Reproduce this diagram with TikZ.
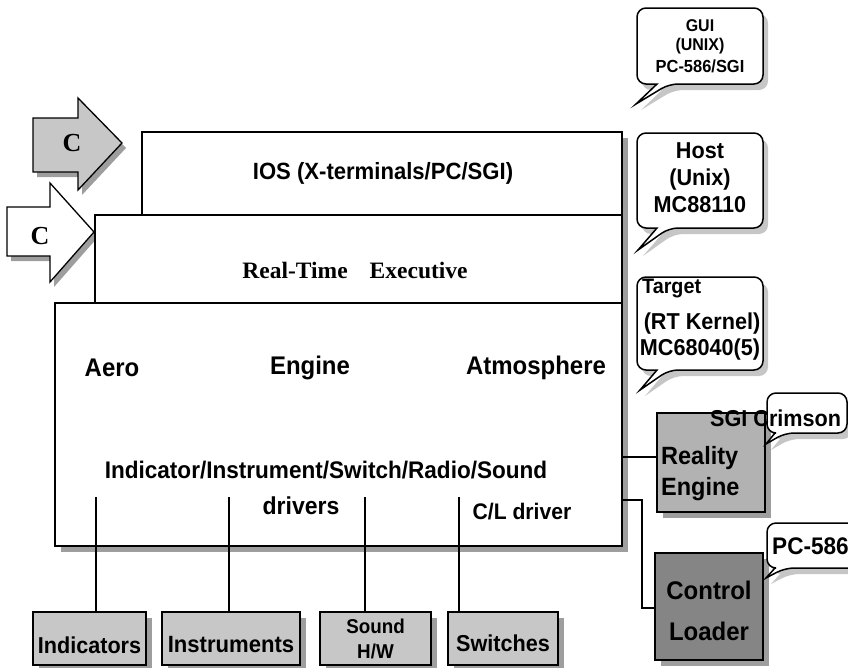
\documentclass[tikz,border=0pt]{standalone}
\usepackage{fontspec}
\setmainfont{Liberation Sans}
\newfontfamily\serifb{Liberation Serif}
\newfontfamily\narr[FakeStretch=0.94]{Liberation Sans}
\usetikzlibrary{shadows,calc}
\definecolor{shd}{gray}{0.62}
\definecolor{lgray}{gray}{0.78}
\definecolor{mgray}{gray}{0.70}
\definecolor{dgray}{gray}{0.52}
\newcommand\mybubble[8]{%
  \draw[bubblestyle] (#1,#2) -- (#3,#2) -- (#3,#4) -- (#6,#4) [sharp corners] -- (#7,#8) -- (#5,#4) [rounded corners=9pt] -- (#1,#4) -- cycle;}
\newcommand\fs[1]{\narr\bfseries\fontsize{#1}{#1}\selectfont}
\begin{document}
\begin{tikzpicture}[x=1pt,y=-1pt,
  box/.style={draw, line width=1.8pt, fill=white, inner sep=0pt,
    drop shadow={shadow xshift=6pt, shadow yshift=-6pt, fill=shd, opacity=1}},
  gbox/.style={box, fill=lgray},
  conn/.style={line width=1.6pt},
  bubblestyle/.style={draw, line width=1.5pt, fill=white, rounded corners=9pt,
    drop shadow={shadow xshift=5pt, shadow yshift=-6pt, fill=gray!45, opacity=1}},
  arrowshape/.style={draw, line width=1.3pt, line join=miter,
    drop shadow={shadow xshift=4pt, shadow yshift=-5pt, fill=shd, opacity=1}},
  lbl/.style={font=\fs{24}, inner sep=0pt},
  slbl/.style={font=\fs{23}, inner sep=0pt, align=center},
  serl/.style={font=\serifb\bfseries\fontsize{23.5}{24}\selectfont, inner sep=0pt},
]
\useasboundingbox (0,0) rectangle (848,667);

% arrows C
\path[arrowshape, fill=lgray] (33,118) -- (78,118) -- (78,98) -- (122,143) -- (78,190) -- (78,172) -- (33,172) -- cycle;
\path[arrowshape, fill=white] (7,207) -- (50,207) -- (50,183) -- (94,232) -- (50,282) -- (50,256) -- (7,256) -- cycle;
\node[serl, font=\serifb\bfseries\fontsize{26}{26}\selectfont] (c1lbl) at (72,143) {C};
\node[serl, font=\serifb\bfseries\fontsize{26}{26}\selectfont] (c2lbl) at (40,236) {C};

% stacked boxes
\node[box, minimum width=480pt, minimum height=83pt] (ios) at (382,173.5) {};
\node[box, minimum width=527pt, minimum height=88pt] (rte) at (358.5,259) {};
\node[box, minimum width=567pt, minimum height=243pt] (main) at (338.5,424.5) {};

\node[lbl, font=\fs{23.5}] (iost) at (383,173) {IOS (X-terminals/PC/SGI)};
\node[serl] (rtet) at (355,270) {Real-Time\hspace{22pt}Executive};

\node[lbl, font=\fs{25.5}] (aero) at (112,368) {Aero};
\node[lbl, font=\fs{25.5}] (eng) at (310,368) {Engine};
\node[lbl, font=\fs{25.5}] (atm) at (536,368) {Atmosphere};
\node[lbl, font=\fs{24}] (drv) at (326,470) {Indicator/Instrument/Switch/Radio/Sound};
\node[lbl, font=\fs{24.5}] (drv2) at (301,506) {drivers};
\node[lbl, font=\fs{22.5}] (cld) at (522,512) {C/L driver};

% bottom boxes
\node[gbox, minimum width=113pt, minimum height=53pt] (ind) at (89.5,638.5) {};
\node[gbox, minimum width=138pt, minimum height=53pt] (ins) at (231,638.5) {};
\node[gbox, minimum width=111pt, minimum height=53pt] (snd) at (375.5,638.5) {};
\node[gbox, minimum width=110pt, minimum height=53pt] (swi) at (503,638.5) {};
\node[lbl, font=\fs{23}] (indt) at (89.5,645) {Indicators};
\node[lbl, font=\fs{23.5}] (inst) at (231,645) {Instruments};
\node[lbl, font=\fs{20}] (sndt) at (375.5,626) {Sound};
\node[lbl, font=\fs{20}] (sndt2) at (375.5,651) {H/W};
\node[lbl, font=\fs{23}] (swit) at (503,643) {Switches};

\coordinate (l1) at (96,497);
\coordinate (l2) at (229,497);
\coordinate (l3) at (365,497);
\coordinate (l4) at (459,497);
\draw[conn] (l1) -- (l1 |- ind.north);
\draw[conn] (l2) -- (l2 |- ins.north);
\draw[conn] (l3) -- (l3 |- snd.north);
\draw[conn] (l4) -- (l4 |- swi.north);

% right side boxes
\node[box, fill=mgray, minimum width=108pt, minimum height=99pt] (re) at (711,462.5) {};
\node[box, fill=dgray, minimum width=108pt, minimum height=107pt] (cl) at (709,606.5) {};
\node[lbl, font=\fs{25}, anchor=west] (ret1) at (661,458) {Reality};
\node[lbl, font=\fs{25}, anchor=west] (ret2) at (661,489) {Engine};
\node[lbl, font=\fs{25.5}] (clt1) at (709,590) {Control};
\node[lbl, font=\fs{25.5}] (clt2) at (709,631) {Loader};

\coordinate (m1) at (622,457);
\coordinate (m2) at (622,500);
\coordinate (m3) at (642,608);
\draw[conn] (m1) -- (m1 -| re.west);
\draw[conn] (m2) -| (m3) -- (m3 -| cl.west);

% bubbles
\mybubble{637}{8}{763}{84}{657}{669}{636}{104}
\node[slbl, font=\fs{17}] (gui) at (700,26) {GUI};
\node[slbl, font=\fs{17}] (gui2) at (700,46) {(UNIX)};
\node[slbl, font=\fs{17.5}] (gui3) at (700,66) {PC-586/SGI};
\mybubble{637}{133}{763}{228}{657}{669}{638}{250}
\node[slbl] (host) at (700,151) {Host};
\node[slbl] (host2) at (700,180) {(Unix)};
\node[slbl] (host3) at (700,205) {MC88110};
\mybubble{637}{277}{763}{370}{657}{669}{640}{390}
\node[slbl, anchor=west, font=\fs{21}] (tg1) at (642,288) {Target};
\node[slbl] (tg2) at (702,324) {(RT Kernel)};
\node[slbl] (tg3) at (700,350) {MC68040(5)};
\mybubble{767}{393}{847}{433}{775}{785}{766}{444}
\node[slbl, anchor=west] (sgi) at (710,418) {SGI Crimson};
\mybubble{767}{523}{858}{568}{775}{785}{766}{578}
\node[slbl, anchor=west, font=\fs{24}] (pc) at (772,546) {PC-586};
\end{tikzpicture}
\end{document}
